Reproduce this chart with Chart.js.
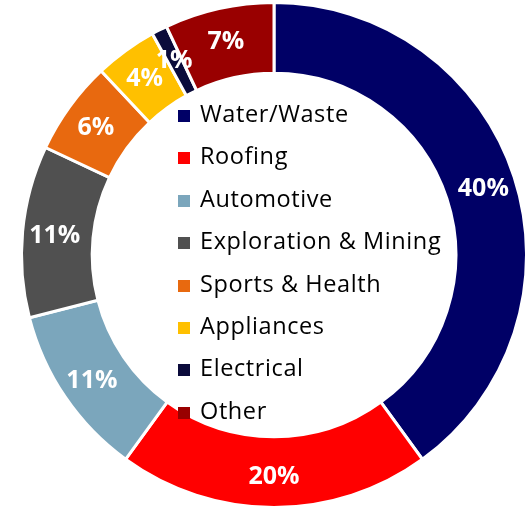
<!DOCTYPE html>
<html>
<head>
<meta charset="utf-8">
<script src="https://cdn.jsdelivr.net/npm/chart.js@4/dist/chart.umd.min.js"></script>
<style>
  html, body { margin: 0; padding: 0; background: #fff; }
  #wrap { position: relative; width: 528px; height: 510px; }
  #legend {
    position: absolute; left: 178px; top: 92px;
    font-family: "Open Sans", sans-serif; font-size: 23.5px; letter-spacing: 0.6px; color: #000;
  }
  #legend .row { height: 42.4px; line-height: 42.4px; white-space: nowrap; }
  #legend .box { display: inline-block; width: 12px; height: 12px; margin-right: 10px; vertical-align: 0px; }
</style>
</head>
<body>
<div id="wrap">
  <canvas id="sectorChart" width="528" height="510"></canvas>
  <div id="legend"></div>
</div>
<script>
const sectors = ['Water/Waste', 'Roofing', 'Automotive', 'Exploration & Mining', 'Sports & Health', 'Appliances', 'Electrical', 'Other'];
const shares = [40, 20, 11, 11, 6, 4, 1, 7];
const sectorColours = ['#000066', '#ff0000', '#7ba6bc', '#505050', '#e8690f', '#ffc000', '#0b0b3b', '#990000'];

// Writes the percentage on each slice, a little outside the middle of the ring
const sliceLabels = {
    id: 'sliceLabels',
    afterDatasetsDraw(chart) {
        const ctx = chart.ctx;
        const meta = chart.getDatasetMeta(0);
        ctx.save();
        ctx.fillStyle = '#fff';
        ctx.font = 'bold 25px "Open Sans", sans-serif';
        ctx.textAlign = 'center';
        ctx.textBaseline = 'middle';
        meta.data.forEach((arc, i) => {
            const mid = (arc.startAngle + arc.endAngle) / 2;
            const r = (arc.innerRadius + arc.outerRadius) / 2 + 3;
            ctx.fillText(shares[i] + '%', arc.x + Math.cos(mid) * r, arc.y + Math.sin(mid) * r + 2);
        });
        ctx.restore();
    }
};

const chart = new Chart(document.getElementById('sectorChart'), {
    type: 'doughnut',
    data: {
        labels: sectors,
        datasets: [{
            data: shares,
            backgroundColor: sectorColours,
            borderColor: '#fff',
            borderWidth: 3,
            borderJoinStyle: 'miter'
        }]
    },
    options: {
        responsive: false,
        animation: false,
        cutout: '72%',
        layout: { padding: { left: 20, right: 0, top: 1, bottom: 1 } },
        plugins: {
            legend: { display: false },
            tooltip: { enabled: false }
        }
    },
    plugins: [sliceLabels]
});

// legend sits inside the hole of the ring
const legendEl = document.getElementById('legend');
chart.data.labels.forEach((name, i) => {
    const row = document.createElement('div');
    row.className = 'row';
    const box = document.createElement('span');
    box.className = 'box';
    box.style.background = sectorColours[i];
    row.appendChild(box);
    row.appendChild(document.createTextNode(name));
    legendEl.appendChild(row);
});
</script>
</body>
</html>
